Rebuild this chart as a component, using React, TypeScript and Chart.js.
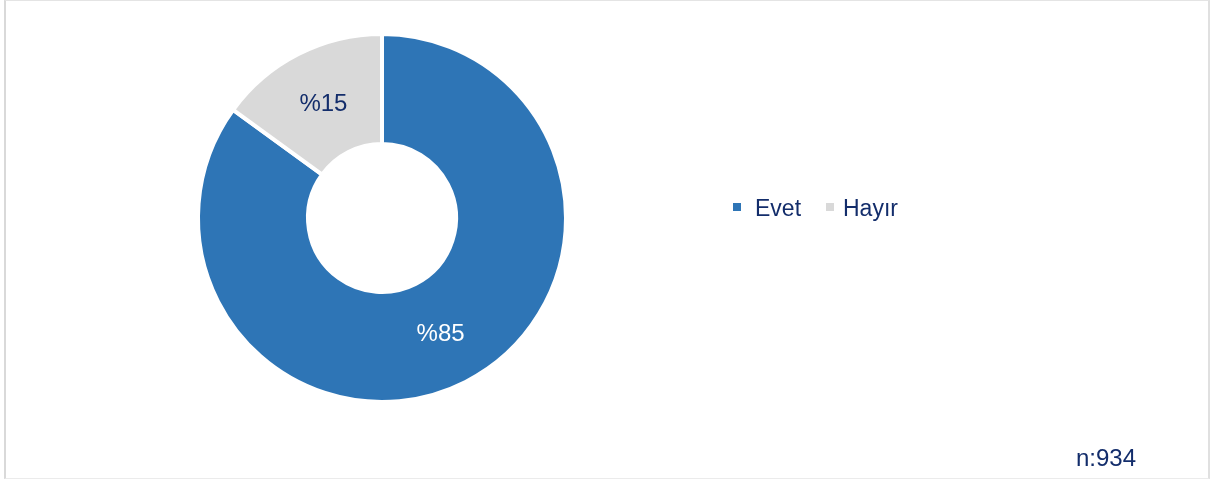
import React, { useEffect, useRef } from "react";
import { Chart, registerables } from "chart.js";

Chart.register(...registerables);

const categories = ["Evet", "Hayır"];
const values = [85, 15];
const sliceLabels = ["%85", "%15"];
const colors = ["#2E75B6", "#D9D9D9"];
const labelColors = ["#FFFFFF", "#132D6B"];
const sampleNote = "n:934";

const FONT = "Arial, 'Liberation Sans', sans-serif";
const NAVY = "#132D6B";

const sliceLabelPlugin = {
  id: "sliceLabels",
  afterDatasetsDraw(chart: any) {
    const ctx = chart.ctx;
    const meta = chart.getDatasetMeta(0);
    ctx.save();
    ctx.font = `24px ${FONT}`;
    ctx.textAlign = "center";
    ctx.textBaseline = "middle";
    meta.data.forEach((arc: any, i: number) => {
      const p = arc.tooltipPosition();
      ctx.fillStyle = labelColors[i];
      ctx.fillText(sliceLabels[i], p.x, p.y + 1);
    });
    ctx.restore();
  },
};

export default function App() {
  const canvasRef = useRef<HTMLCanvasElement | null>(null);

  useEffect(() => {
    document.body.style.margin = "0";
    const canvas = canvasRef.current;
    if (!canvas) return;
    const chart = new Chart(canvas, {
      type: "doughnut",
      data: {
        labels: categories,
        datasets: [
          {
            data: values,
            backgroundColor: colors,
            borderColor: "#FFFFFF",
            borderWidth: 4,
            hoverOffset: 0,
          },
        ],
      },
      options: {
        responsive: false,
        animation: false,
        radius: 184,
        cutout: "40.2%",
        layout: { padding: { left: 182, right: 629, top: 18, bottom: 61 } },
        plugins: {
          legend: { display: false },
          tooltip: { enabled: false },
        },
        events: [],
      } as any,
      plugins: [sliceLabelPlugin],
    });
    return () => chart.destroy();
  }, []);

  const legendText: React.CSSProperties = {
    position: "absolute",
    fontFamily: FONT,
    fontSize: 23,
    lineHeight: "23px",
    color: NAVY,
    whiteSpace: "nowrap",
  };

  return (
    <div style={{ position: "fixed", left: 0, top: 0, width: 1211, height: 479, background: "#fff" }}>
      <div
        style={{
          position: "absolute",
          left: 4,
          top: 0,
          width: 1206,
          height: 479,
          boxSizing: "border-box",
          borderTop: "1px solid #E4E4E4",
          borderBottom: "1px solid #EBEBEB",
          borderLeft: "2px solid #D9D9D9",
          borderRight: "2px solid #E0E0E0",
        }}
      />
      <canvas
        ref={canvasRef}
        width={1211}
        height={479}
        style={{ position: "absolute", left: 0, top: 0, width: 1211, height: 479 }}
      />
      <div style={{ position: "absolute", left: 733, top: 203, width: 8, height: 8, background: colors[0] }} />
      <div style={{ ...legendText, left: 755, top: 197 }}>{categories[0]}</div>
      <div style={{ position: "absolute", left: 826, top: 203, width: 8, height: 8, background: colors[1] }} />
      <div style={{ ...legendText, left: 843, top: 197 }}>{categories[1]}</div>
      <div style={{ ...legendText, fontSize: 24, lineHeight: "24px", left: 1076, top: 446 }}>{sampleNote}</div>
    </div>
  );
}
